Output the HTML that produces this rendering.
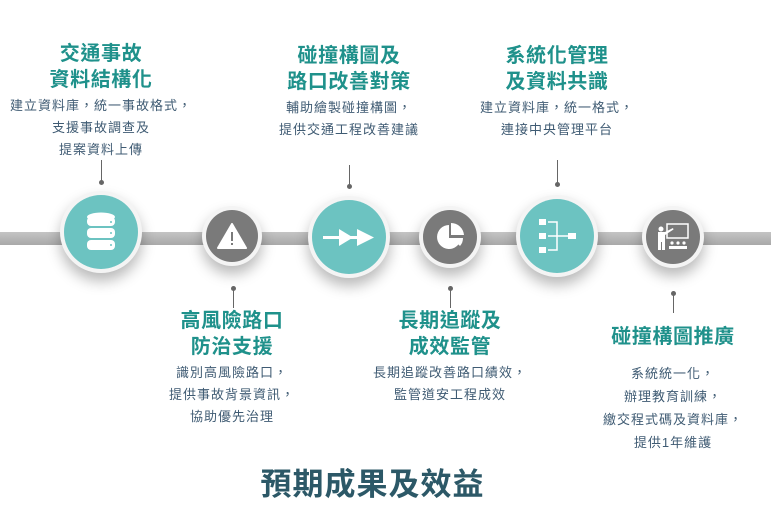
<!DOCTYPE html>
<html><head><meta charset="utf-8"><style>
html,body{margin:0;padding:0;background:#fff;}
body{width:771px;height:528px;position:relative;overflow:hidden;font-family:"Liberation Sans","Noto Sans CJK TC",sans-serif;}
.bar{position:absolute;left:0;top:232px;width:771px;height:13px;background:linear-gradient(#c4c4c4,#a9a9a9);}
.c{position:absolute;border-radius:50%;background:#f4f4f4;box-shadow:0 8px 14px rgba(0,0,0,.28);}
.c .in{position:absolute;border-radius:50%;display:flex;align-items:center;justify-content:center;}
.t{background:#6cc3c1;}.g{background:#7a7a7a;}
.blk{position:absolute;width:240px;text-align:center;}
.ti{color:#1f918b;font-weight:bold;font-size:20px;line-height:26px;letter-spacing:0.6px;}
.de{color:#3f5b73;font-size:13px;line-height:22px;letter-spacing:1px;}
.ln{position:absolute;width:1px;background:#666;}
.dot{position:absolute;width:5px;height:5px;border-radius:50%;background:#666;}
</style></head><body>
<div class="bar"></div>

<div class="ln" style="left:101px;top:160px;height:22px"></div><div class="dot" style="left:99px;top:180px"></div>
<div class="ln" style="left:349px;top:165px;height:21px"></div><div class="dot" style="left:347px;top:184px"></div>
<div class="ln" style="left:557px;top:160px;height:24px"></div><div class="dot" style="left:555px;top:182px"></div>
<div class="ln" style="left:233px;top:288px;height:20px"></div><div class="dot" style="left:231px;top:286px"></div>
<div class="ln" style="left:450px;top:288px;height:20px"></div><div class="dot" style="left:448px;top:286px"></div>
<div class="ln" style="left:673px;top:293px;height:20px"></div><div class="dot" style="left:671px;top:291px"></div>

<div class="c" style="left:60px;top:191px;width:82px;height:82px"><div class="in t" style="left:4px;top:4px;width:74px;height:74px">
<svg width="30" height="40" viewBox="0 0 30 40"><ellipse cx="15" cy="5" rx="14" ry="4.5" fill="#fff"/><rect x="1" y="5" width="28" height="9" rx="4" fill="#fff"/><rect x="1" y="16" width="28" height="10" rx="4" fill="#fff"/><rect x="1" y="28" width="28" height="10" rx="4" fill="#fff"/><circle cx="25" cy="10" r="1" fill="#6cc3c1"/><circle cx="25" cy="21" r="1" fill="#6cc3c1"/><circle cx="25" cy="33" r="1" fill="#6cc3c1"/></svg></div></div>

<div class="c" style="left:202px;top:206px;width:60px;height:60px"><div class="in g" style="left:4px;top:4px;width:52px;height:52px">
<svg width="30" height="26" viewBox="0 0 30 26"><path d="M15 1 L29 25 L1 25 Z" fill="#fff" stroke="#fff" stroke-linejoin="round" stroke-width="2"/><rect x="14" y="9" width="2" height="9" fill="#7a7a7a"/><rect x="14" y="20" width="2" height="2" fill="#7a7a7a"/></svg></div></div>

<div class="c" style="left:308px;top:196px;width:82px;height:82px"><div class="in t" style="left:4px;top:4px;width:74px;height:74px">
<svg width="52" height="20" viewBox="0 0 52 20"><rect x="0" y="9" width="28" height="3" fill="#fff"/><path d="M16 2 L30 10.5 L16 19 Z" fill="#fff"/><rect x="28" y="9" width="10" height="3" fill="#fff"/><path d="M34 2 L51 10.5 L34 19 Z" fill="#fff"/></svg></div></div>

<div class="c" style="left:419px;top:206px;width:62px;height:62px"><div class="in g" style="left:4px;top:4px;width:54px;height:54px">
<svg width="30" height="30" viewBox="0 0 30 30"><path d="M14 3 A12 12 0 1 0 26 16 L14 16 Z" fill="#fff"/><path d="M16 1 A13 13 0 0 1 29 13 L16 13 Z" fill="#fff"/><path d="M17 16 L28 16 A12 12 0 0 1 25 24 Z" fill="#fff"/></svg></div></div>

<div class="c" style="left:516px;top:195px;width:82px;height:82px"><div class="in t" style="left:4px;top:4px;width:74px;height:74px">
<svg width="40" height="36" viewBox="0 0 40 36"><rect x="2" y="1" width="7" height="6" fill="#fff"/><rect x="2" y="15" width="7" height="6" fill="#fff"/><rect x="2" y="29" width="7" height="6" fill="#fff"/><rect x="31" y="15" width="8" height="6" fill="#fff"/><path d="M11 4 H20 V32 H11 M11 18 H31" stroke="#fff" stroke-width="1.5" fill="none"/></svg></div></div>

<div class="c" style="left:642px;top:206px;width:62px;height:62px"><div class="in g" style="left:4px;top:4px;width:54px;height:54px">
<svg width="32" height="28" viewBox="0 0 32 28"><rect x="10" y="1" width="21" height="14" fill="none" stroke="#fff" stroke-width="1.5"/><circle cx="4" cy="6" r="2.5" fill="#fff"/><path d="M1 9 H8 L16 5 L16.5 6.5 L8 12 V27 H5 V19 H4 V27 H1 Z" fill="#fff"/><circle cx="15" cy="20" r="1.6" fill="#fff"/><circle cx="21" cy="20" r="1.6" fill="#fff"/><circle cx="27" cy="20" r="1.6" fill="#fff"/><rect x="12" y="23" width="18" height="3" fill="#fff"/></svg></div></div>

<div class="blk" style="left:-19px;top:41px"><div class="ti">交通事故<br>資料結構化</div><div class="de" style="margin-top:2px">建立資料庫，統一事故格式，<br>支援事故調查及<br>提案資料上傳</div></div>

<div class="blk" style="left:229px;top:43px"><div class="ti">碰撞構圖及<br>路口改善對策</div><div class="de" style="margin-top:2px">輔助繪製碰撞構圖，<br>提供交通工程改善建議</div></div>

<div class="blk" style="left:437px;top:43px"><div class="ti">系統化管理<br>及資料共識</div><div class="de" style="margin-top:2px">建立資料庫，統一格式，<br>連接中央管理平台</div></div>

<div class="blk" style="left:112px;top:308px"><div class="ti">高風險路口<br>防治支援</div><div class="de" style="margin-top:2px">識別高風險路口，<br>提供事故背景資訊，<br>協助優先治理</div></div>

<div class="blk" style="left:330px;top:308px"><div class="ti">長期追蹤及<br>成效監管</div><div class="de" style="margin-top:2px">長期追蹤改善路口績效，<br>監管道安工程成效</div></div>

<div class="blk" style="left:553px;top:324px"><div class="ti">碰撞構圖推廣</div><div class="de" style="margin-top:12px;line-height:23px">系統統一化，<br>辦理教育訓練，<br>繳交程式碼及資料庫，<br>提供1年維護</div></div>

<div style="position:absolute;left:-13px;width:771px;top:466px;text-align:center;color:#2c5867;font-weight:bold;font-size:31px;line-height:38px;letter-spacing:1px">預期成果及效益</div>
</body></html>
